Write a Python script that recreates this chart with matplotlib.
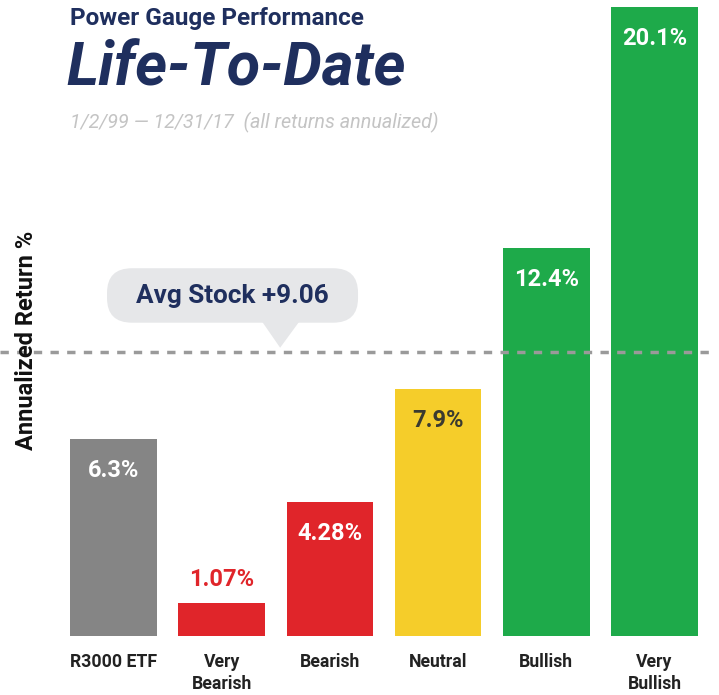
import matplotlib.pyplot as plt
from matplotlib.patches import FancyBboxPatch, Polygon

categories = ['R3000 ETF', 'Very\nBearish', 'Bearish', 'Neutral', 'Bullish', 'Very\nBullish']
returns = [6.3, 1.07, 4.28, 7.9, 12.4, 20.1]
labels = ['6.3%', '1.07%', '4.28%', '7.9%', '12.4%', '20.1%']
colors = ['#858585', '#e0252a', '#e0252a', '#f5cd2a', '#1eaa4a', '#1eaa4a']
avg_stock = 9.06

navy = '#1f2f5e'
plt.rcParams['font.family'] = ['Roboto', 'DejaVu Sans']

fig = plt.figure(figsize=(7.19, 6.95), dpi=100)
ax = fig.add_axes([0, 59 / 695, 1, 636 / 695])

x = list(range(len(categories)))
ax.bar(x, returns, width=0.8, color=colors)
ax.set_xlim(-1.049, 5.596)
ax.set_ylim(0, 20.32)
ax.axis('off')

# value labels
for i, (v, lab) in enumerate(zip(returns, labels)):
    if v < 2:
        ax.text(i, v + 0.75, lab, ha='center', va='center', color='#e0252a',
                fontsize=17, fontweight='bold')
    elif colors[i] == '#f5cd2a':
        ax.text(i, v - 1.0, lab, ha='center', va='center', color='#3a3a30',
                fontsize=17, fontweight='bold')
    else:
        ax.text(i, v - 1.0, lab, ha='center', va='center', color='white',
                fontsize=17, fontweight='bold')

# category labels
for i, c in enumerate(categories):
    ax.text(i, -0.55, c, ha='center', va='top', color='#222222',
            fontsize=12.7, fontweight='bold', linespacing=1.3)

# average line and callout
ax.axhline(avg_stock, xmin=0, xmax=0.99, color='#9a9a9a', lw=2.5,
           ls=(0, (2.4, 2.4)))
box = FancyBboxPatch((-0.06, avg_stock + 0.95), 2.32, 1.74,
                     boxstyle='round,pad=0,rounding_size=0.23',
                     mutation_aspect=3.42, fc='#e6e7e9', ec='none', zorder=3)
ax.add_patch(box)
tri = Polygon([[1.37, avg_stock + 1.0], [1.72, avg_stock + 1.0], [1.54, avg_stock + 0.15]],
              closed=True, fc='#e6e7e9', ec='none', zorder=3)
ax.add_patch(tri)
ax.text(1.095, avg_stock + 1.8, 'Avg Stock +9.06', ha='center', va='center',
        color=navy, fontsize=18.8, fontweight='bold', zorder=4)

# titles
fig.text(70 / 719, 1 - 18 / 695, 'Power Gauge Performance', ha='left', va='center',
         color=navy, fontsize=17.5, fontweight='bold')
fig.text(66 / 719, 1 - 68 / 695, 'Life-To-Date', ha='left', va='center',
         color=navy, fontsize=44, fontweight='bold', fontstyle='italic')
fig.text(70 / 719, 1 - 122 / 695, '1/2/99 \u2014 12/31/17  (all returns annualized)',
         ha='left', va='center', color='#c4c4c4', fontsize=14.2, fontstyle='italic')
fig.text(27 / 719, 1 - 340 / 695, 'Annualized Return %', ha='center', va='center',
         rotation=90, color='#111111', fontsize=17, fontweight='bold')

plt.savefig('out.png')
